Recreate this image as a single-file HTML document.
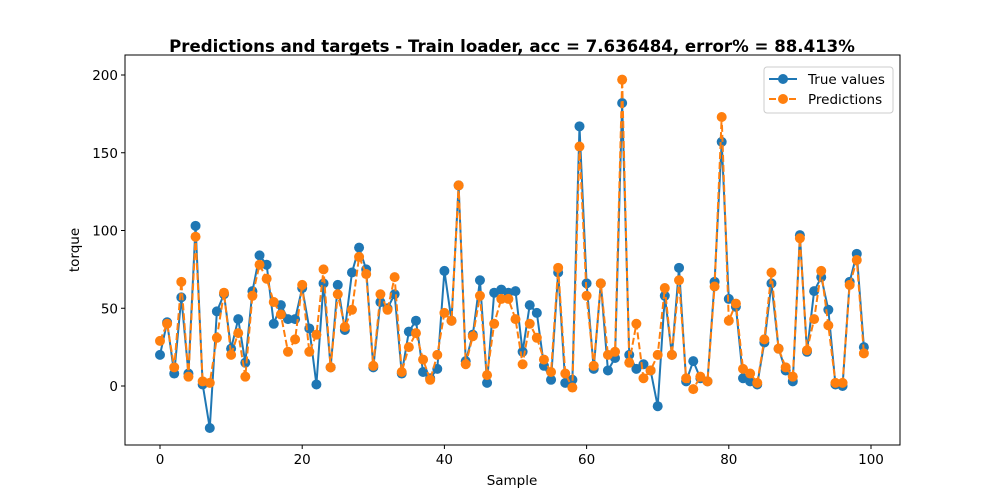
<!DOCTYPE html>
<html><head><meta charset="utf-8">
<style>body{margin:0;background:#fff}svg{display:block;font-family:"DejaVu Sans","Liberation Sans",sans-serif}</style>
</head><body>
<svg id="chart" width="1000" height="500" viewBox="0 0 1000 500"></svg>
<script>
const trueValues=[20,41,8,57,8,103,1,-27,48,59,24,43,15,61,84,78,40,52,43,43,63,37,1,66,12,65,36,73,89,75,12,54,50,59,8,35,42,9,5,11,74,42,129,16,33,68,2,60,62,60,61,22,52,47,13,4,73,2,4,167,66,11,66,10,18,182,20,11,14,10,-13,58,20,76,3,16,5,3,67,157,56,51,5,3,1,28,66,24,10,3,97,22,61,70,49,1,0,67,85,25];
const predValues=[29,40,12,67,6,96,3,2,31,60,20,34,6,58,78,69,54,46,22,30,65,22,33,75,12,59,38,49,83,72,13,59,49,70,9,25,34,17,4,20,47,42,129,14,32,58,7,40,56,56,43,14,40,31,17,9,76,8,-1,154,58,13,66,20,22,197,15,40,5,10,20,63,20,68,5,-2,6,3,64,173,42,53,11,8,2,30,73,24,12,6,95,23,43,74,39,2,2,65,81,21];
const xTicks=[0,20,40,60,80,100];
const yTicks=[0,50,100,150,200];
const NS="http://www.w3.org/2000/svg";
const svg=document.getElementById('chart');
const L=125,R=900,T=55,B=445;
const xs=v=>160+v*(871-160)/100;
const ys=v=>386-v*(386-75)/200;
function el(tag,attrs,txt){const e=document.createElementNS(NS,tag);for(const k in attrs)e.setAttribute(k,attrs[k]);if(txt!==undefined)e.textContent=txt;svg.appendChild(e);return e;}
let t=el('text',{x:512,y:52,'text-anchor':'middle','font-size':16.6,'font-weight':'bold'},'Predictions and targets - Train loader, acc = 7.636484, error% = 88.413%');

xTicks.forEach(v=>{const g=el('line',{x1:xs(v),x2:xs(v),y1:B,y2:B+4,stroke:'#000'});
const l=el('text',{x:xs(v),y:B+19,'text-anchor':'middle','font-size':13.5},v);});
yTicks.forEach(v=>{const g=el('line',{x1:L-4,x2:L,y1:ys(v),y2:ys(v),stroke:'#000'});
const l=el('text',{x:L-7,y:ys(v)+5,'text-anchor':'end','font-size':13.5},v);});
t=el('text',{x:512,y:485,'text-anchor':'middle','font-size':13.5},'Sample');
t=el('text',{x:79,y:250,'text-anchor':'middle','font-size':13.5,transform:'rotate(-90 79 250)'},'torque');
function series(vals,color,dash,name){
 const p=el('polyline',{points:vals.map((v,i)=>xs(i)+','+ys(v)).join(' '),fill:'none',stroke:color,'stroke-width':2,'stroke-dasharray':dash||'none'});
 
 vals.forEach((v,i)=>{const c=el('circle',{cx:xs(i),cy:ys(v),r:5,fill:color});});
}
series(trueValues,'#1f77b4',null,'true-values');
series(predValues,'#ff7f0e','7,3','predictions');
const fr=el('rect',{x:L,y:T,width:R-L,height:B-T,fill:'none',stroke:'#000','stroke-width':1});

const lg=el('rect',{x:764,y:67,width:129,height:46,fill:'#fff','fill-opacity':0.8,stroke:'#ccc',rx:3});

[[0,'True values','#1f77b4',null],[1,'Predictions','#ff7f0e','7,3']].forEach(([k,lab,c,d])=>{
 const y=79+k*20;
 const ln=el('line',{x1:769,x2:797,y1:y,y2:y,stroke:c,'stroke-width':2,'stroke-dasharray':d||'none'});
 const m=el('circle',{cx:783,cy:y,r:5,fill:c});
 const tx=el('text',{x:808,y:y+5,'font-size':13.5},lab);
});
</script>
</body></html>
